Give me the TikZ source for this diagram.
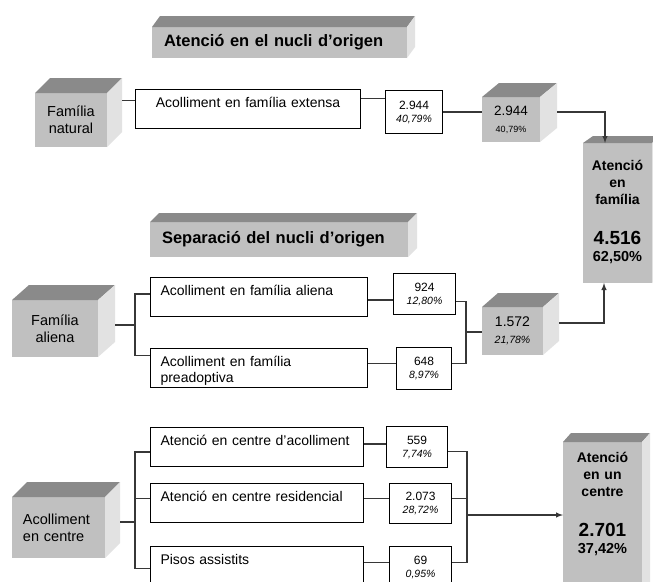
\documentclass[tikz,border=0pt]{standalone}
\usepackage{fontspec}
\setmainfont{Liberation Sans}
\usetikzlibrary{arrows,calc}
\definecolor{FrontClr}{RGB}{192,192,192}
\definecolor{TopClr}{RGB}{138,138,138}
\definecolor{SideClr}{RGB}{226,226,226}
\definecolor{LinkClr}{RGB}{55,55,55}

% top and side faces of a box node, plus its right edge coordinate
\newcommand{\CubeFaces}[3]{%
  \fill[TopClr] (#1.north west) -- ++(#2,-#3) -- ($(#1.north east)+(#2,-#3)$) -- (#1.north east) -- cycle;
  \fill[SideClr] (#1.north east) -- ++(#2,-#3) -- ($(#1.south east)+(#2,-#3)$) -- (#1.south east) -- cycle;
  \coordinate (#1-r) at ($(#1.east)+(#2,0)$);}
\newcommand{\pct}[1]{{\itshape\fontsize{10.5}{12}\selectfont #1\%}}

\begin{document}
\begin{tikzpicture}[x=1pt,y=-1pt,
  cube/.style={fill=FrontClr,outer sep=0pt,inner sep=0pt,anchor=north west,align=center,font=\fontsize{14.5}{17}\selectfont},
  head/.style={fill=FrontClr,outer sep=0pt,inner xsep=12pt,anchor=north west,align=left,font=\bfseries\fontsize{16.5}{19}\selectfont},
  total/.style={cube,inner xsep=3pt,inner ysep=3pt,font=\bfseries\fontsize{14}{17}\selectfont},
  box/.style={draw,line width=1.1pt,anchor=north west,align=left,inner xsep=10pt,inner ysep=5pt,text height=13pt,text depth=16pt,font=\fontsize{14}{16}\selectfont},
  numbox/.style={draw,line width=1.1pt,anchor=north west,align=center,inner sep=0pt,font=\fontsize{12}{13}\selectfont},
  link/.style={LinkClr,line width=1.4pt},
  arr/.style={link,-latex}]
\clip (0,0) rectangle (653,581);
\fill[white] (0,0) rectangle (653,581);

% Headings.
\node[head,text width=231pt,minimum height=31pt] (head1) at (152,27) {Atenció en el nucli d’origen};
\node[head,text width=234pt,minimum height=35pt] (head2) at (150,222) {Separació del nucli d’origen};

% Grey blocks.
\node[cube,minimum width=72pt,minimum height=54pt] (natural) at (35,93) {Família\\natural};
\node[cube,minimum width=58pt,minimum height=45pt] (c2944) at (482,97) {{\fontsize{13.5}{15}\selectfont 2.944}\\{\fontsize{9}{10}\selectfont 40,79\%}};
\node[total,text width=63pt,text height=24pt,text depth=110pt] (famtot) at (583,143) {Atenció\\en\\família\\[23pt]{\fontsize{19}{21}\selectfont 4.516}\\{\fontsize{14.5}{17}\selectfont 62,50\%}};
\node[cube,minimum width=86pt,minimum height=57pt] (aliena) at (12,300) {Família\\aliena};
\node[cube,minimum width=61pt,minimum height=48pt] (c1572) at (482,307) {{\fontsize{14}{16}\selectfont 1.572}\\\pct{21,78}};
\node[cube,align=left,inner xsep=11pt,text width=71pt,minimum height=61pt] (centre) at (12,497) {Acolliment\\en centre};
\node[total,text width=73pt,text height=17pt,text depth=155pt] (ccentre) at (563,442) {Atenció\\en un\\centre\\[23pt]{\fontsize{19}{21}\selectfont 2.701}\\{\fontsize{14.5}{17}\selectfont 37,42\%}};

\CubeFaces{head1}{8}{11}
\CubeFaces{head2}{9}{9}
\CubeFaces{natural}{15}{15}
\CubeFaces{c2944}{17}{14}
\CubeFaces{famtot}{10}{7}
\CubeFaces{aliena}{17}{15}
\CubeFaces{c1572}{16}{14}
\CubeFaces{centre}{15}{15}
\CubeFaces{ccentre}{8}{9}

% Kinds of care.
\node[box,text width=201pt,align=center,inner xsep=12pt] (extensa) at (135,89) {Acolliment en família extensa};
\node[box,text width=197pt] (acaliena) at (150,277) {Acolliment en família aliena};
\node[box,text width=197pt] (acpreado) at (150,348) {Acolliment en família\\preadoptiva};
\node[box,text width=193pt] (acacoll) at (150,427) {Atenció en centre d'acolliment};
\node[box,text width=193pt] (acresid) at (150,483) {Atenció en centre residencial};
\node[box,text width=193pt] (pisos) at (150,546) {Pisos assistits};

% Counts.
\node[numbox,minimum width=57pt,minimum height=43pt] (n2944) at (385,90) {2.944\\\pct{40,79}};
\node[numbox,minimum width=62pt,minimum height=41pt] (n924) at (393,273) {924\\\pct{12,80}};
\node[numbox,minimum width=55pt,minimum height=42pt] (n648) at (396,347) {648\\\pct{8,97}};
\node[numbox,minimum width=61pt,minimum height=41pt] (n559) at (386,426) {559\\\pct{7,74}};
\node[numbox,minimum width=62pt,minimum height=40pt] (n2073) at (389,483) {2.073\\\pct{28,72}};
\node[numbox,minimum width=62pt,minimum height=41pt] (n69) at (389,546) {69\\\pct{0,95}};

% First branch.
\draw[link] ([yshift=8.5pt]extensa.west) -- ([yshift=8.5pt]extensa.west -| natural-r);
\draw[link] ([yshift=10.5pt]extensa.east) -- ([yshift=10.5pt]extensa.east -| n2944.west);
\draw[link] (n2944.east) -- (n2944.east -| c2944.west);
\draw[arr] (n2944.east -| c2944-r) -| ([xshift=-12.5pt]famtot.north);

% Second branch.
\coordinate (fork2) at (135,325);
\coordinate (join2) at (466,332);
\draw[link] (aliena-r |- fork2) -- (fork2);
\draw[link] ([yshift=3pt]acaliena.west) -| (fork2) |- ([yshift=12.5pt]acpreado.west);
\draw[link] ([yshift=-3pt]acaliena.east) -- ([yshift=-3pt]acaliena.east -| n924.west);
\draw[link] ([yshift=4.5pt]acpreado.east) -- ([yshift=4.5pt]acpreado.east -| n648.west);
\draw[link] ([yshift=-7.5pt]n924.east) -| (join2) |- ([yshift=5pt]n648.east);
\draw[link] (join2) -- (join2 -| c1572.west);
\draw[arr] ([yshift=8pt]c1572-r) -| ([xshift=-13.5pt]famtot.south);

% Third branch.
\coordinate (fork3) at (135,522);
\coordinate (join3) at (467,515);
\draw[link] (centre-r |- fork3) -- (fork3);
\draw[link] ([yshift=-5pt]acacoll.west) -| (fork3) |- ([yshift=-2.5pt]pisos.west);
\draw[link] ([yshift=4.5pt]acresid.west) -- ([yshift=4.5pt]acresid.west -| fork3);
\draw[link] ([yshift=3pt]acacoll.east) -- ([yshift=3pt]acacoll.east -| n559.west);
\draw[link] ([yshift=4.5pt]acresid.east) -- ([yshift=4.5pt]acresid.east -| n2073.west);
\draw[link] ([yshift=3.5pt]pisos.east) -- ([yshift=3.5pt]pisos.east -| n69.west);
\draw[link] ([yshift=-4.5pt]n559.east) -| (join3) |- ([yshift=4.5pt]n69.east);
\draw[link] ([yshift=5pt]n2073.east) -- ([yshift=5pt]n2073.east -| join3);
\draw[arr] (join3) -- (join3 -| ccentre.west);
\end{tikzpicture}
\end{document}
